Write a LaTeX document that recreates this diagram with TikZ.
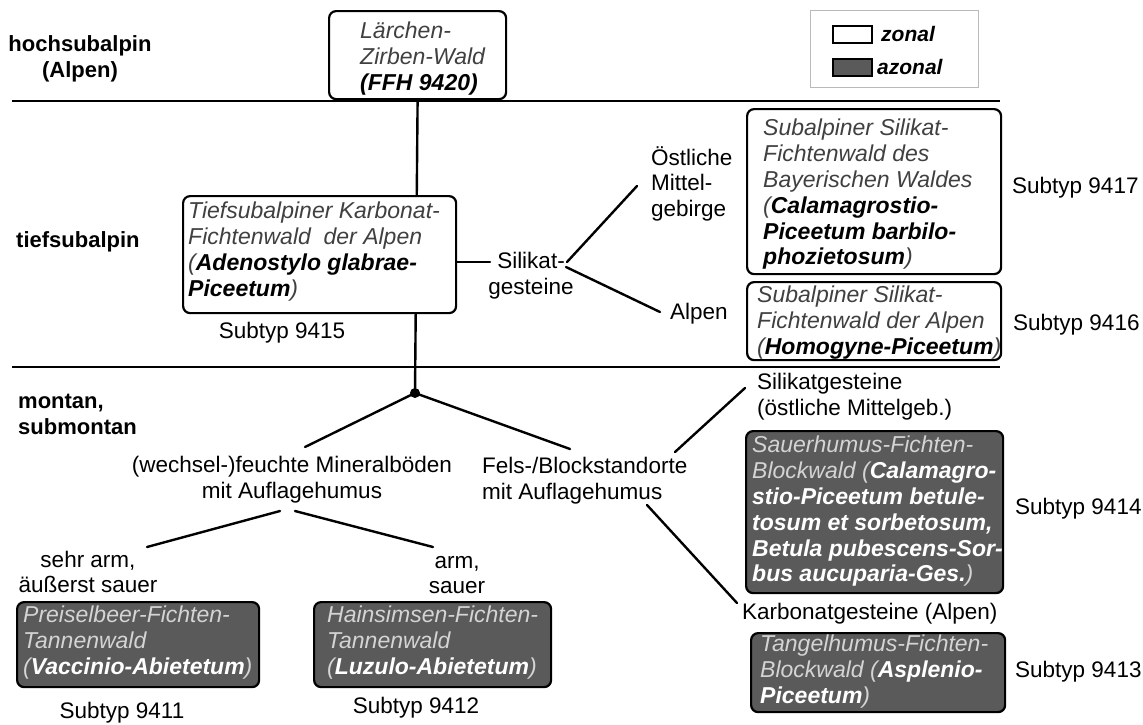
\documentclass[tikz,border=0pt]{standalone}
\usepackage{fontspec}
\setmainfont{Liberation Sans}
\usetikzlibrary{backgrounds}
\definecolor{dk}{HTML}{5A5A5A}
\definecolor{gt}{HTML}{404040}
\definecolor{lt}{HTML}{D4D4D4}
\newcommand{\mywb}[1]{\textcolor{black}{\textbf{\textit{#1}}}}
\newcommand{\mydb}[1]{\textcolor{white}{\textbf{\textit{#1}}}}
\tikzset{
  box/.style={draw=black, line width=2.2pt, rounded corners=7pt, inner sep=0pt, anchor=north west},
  wbox/.style={box, fill=white},
  dbox/.style={box, fill=dk},
  wtxt/.style={anchor=north west, inner sep=0pt, align=left, font=\fontsize{23}{25.8}\selectfont\itshape, text=gt},
  dtxt/.style={wtxt, text=lt},
  lbl/.style={inner sep=0pt, font=\fontsize{22.5}{25.8}\selectfont},
  blbl/.style={inner sep=0pt, font=\fontsize{22}{25.8}\selectfont\bfseries},
  conn/.style={line width=2.4pt, line cap=round},
  sep/.style={line width=2.6pt},
  legbox/.style={draw=black, line width=1.6pt, minimum width=39pt, minimum height=17pt, inner sep=0pt, anchor=north west}
}
\begin{document}
\begin{tikzpicture}[x=1pt,y=-1pt]
\useasboundingbox (0,0) rectangle (1143,724);
% separator lines
\draw[sep] (12,101) -- (1000,101);
\draw[sep] (12,367) -- (1000,367);
% legend
\node[draw=gray!55, line width=0.8pt, minimum width=168pt, minimum height=77pt, inner sep=0pt, anchor=north west] (legend) at (810,10) {};
\node[legbox, fill=white] (lz) at (832,25) {};
\node[legbox, fill=dk] (la) at (832,58) {};
\node[lbl, anchor=west, font=\fontsize{21}{24}\selectfont\bfseries\itshape] (lzt) at (881,34) {zonal};
\node[lbl, anchor=west, font=\fontsize{21}{24}\selectfont\bfseries\itshape] (lat) at (877,67) {azonal};
% level labels
\node[blbl, align=center] (hoch) at (80,59) {hochsubalpin\\(Alpen)};
\node[blbl, anchor=west] (tief) at (16,242) {tiefsubalpin};
\node[blbl, align=left, anchor=north west] (mont) at (18,394) {montan,\\submontan};
% boxes
\node[wbox, minimum width=177pt, minimum height=88pt] (b9420) at (328,10) {};
\node[wtxt] (t9420) at (360,22) {Lärchen-\\Zirben-Wald\\\mywb{(FFH 9420)}};
\node[wbox, minimum width=273pt, minimum height=117pt] (b9415) at (182,195) {};
\node[wtxt] (t9415) at (188,202) {Tiefsubalpiner Karbonat-\\Fichtenwald\ \ der Alpen\\(\mywb{Adenostylo glabrae-}\\\mywb{Piceetum})};
\node[wbox, minimum width=254pt, minimum height=165pt] (b9417) at (746,108) {};
\node[wtxt] (t9417) at (763,119) {Subalpiner Silikat-\\Fichtenwald des\\Bayerischen Waldes\\(\mywb{Calamagrostio-}\\\mywb{Piceetum barbilo-}\\\mywb{phozietosum})};
\node[wbox, minimum width=254pt, minimum height=78pt] (b9416) at (746,281) {};
\node[wtxt] (t9416) at (757,286) {Subalpiner Silikat-\\Fichtenwald der Alpen\\(\mywb{Homogyne-Piceetum})};
\node[dbox, minimum width=257pt, minimum height=162pt] (b9414) at (745,430) {};
\node[dtxt] (t9414) at (752,436) {Sauerhumus-Fichten-\\Blockwald (\mydb{Calamagro-}\\\mydb{stio-Piceetum betule-}\\\mydb{tosum et sorbetosum,}\\\mydb{Betula pubescens-Sor-}\\\mydb{bus aucuparia-Ges.})};
\node[dbox, minimum width=254pt, minimum height=79pt] (b9413) at (750,632) {};
\node[dtxt] (t9413) at (760,635) {Tangelhumus-Fichten-\\Blockwald (\mydb{Asplenio-}\\\mydb{Piceetum})};
\node[dbox, minimum width=242pt, minimum height=85pt] (b9411) at (16,601) {};
\node[dtxt] (t9411) at (23,606) {Preiselbeer-Fichten-\\Tannenwald\\(\mydb{Vaccinio-Abietetum})};
\node[dbox, minimum width=237pt, minimum height=85pt] (b9412) at (313,601) {};
\node[dtxt] (t9412) at (327,606) {Hainsimsen-Fichten-\\Tannenwald\\(\mydb{Luzulo-Abietetum})};
% subtype labels
\node[lbl] (s9415) at (282,333) {Subtyp 9415};
\node[lbl, anchor=west] (s9417) at (1012,188) {Subtyp 9417};
\node[lbl, anchor=west] (s9416) at (1013,325) {Subtyp 9416};
\node[lbl, anchor=west] (s9414) at (1015,509) {Subtyp 9414};
\node[lbl, anchor=west] (s9413) at (1015,672) {Subtyp 9413};
\node[lbl] (s9411) at (122,713) {Subtyp 9411};
\node[lbl] (s9412) at (416,708) {Subtyp 9412};
% branch labels
\node[lbl, align=center] (silikat) at (531,276) {Silikat-\\gesteine};
\node[lbl, align=left, anchor=north west] (oest) at (651,146) {Östliche\\Mittel-\\gebirge};
\node[lbl, anchor=west] (alpen) at (670,314) {Alpen};
\node[lbl, align=center] (feucht) at (292,480) {(wechsel-)feuchte Mineralböden\\mit Auflagehumus};
\node[lbl, align=left, anchor=north west] (fels) at (482,457) {Fels-/Blockstandorte\\mit Auflagehumus};
\node[lbl, align=left, anchor=north west] (silg) at (757,373) {Silikatgesteine\\(östliche Mittelgeb.)};
\node[lbl, anchor=west] (karb) at (742,614) {Karbonatgesteine (Alpen)};
\node[lbl, align=center] (sehrarm) at (88,572) {sehr arm,\\äußerst sauer};
\node[lbl, align=center] (arm) at (457,575) {arm,\\sauer};
% junction
\node[circle, fill=black, minimum size=10pt, inner sep=0pt] (dot) at (415,393) {};
% connector end points
\coordinate (c15a) at (455,262);
\coordinate (c15b) at (490,262);
\coordinate (cs1) at (567,262);
\coordinate (co) at (637,186);
\coordinate (cs2) at (566,267);
\coordinate (ca) at (660,312);
\coordinate (cfl) at (305,447);
\coordinate (cfr) at (570,449);
\coordinate (cfa) at (675,452);
\coordinate (csg) at (745,388);
\coordinate (cfb) at (647,505);
\coordinate (ck) at (737,603);
\coordinate (cwa) at (280,511);
\coordinate (cwl) at (147,547);
\coordinate (cwb) at (295,511);
\coordinate (cwr) at (433,547);
% connectors (behind the boxes)
\begin{pgfonlayer}{background}
\draw[conn] (b9420.south) -- (dot.center);
\draw[conn] (c15a) -- (c15b);
\draw[conn] (cs1) -- (co);
\draw[conn] (cs2) -- (ca);
\draw[conn] (dot.center) -- (cfl);
\draw[conn] (dot.center) -- (cfr);
\draw[conn] (cfa) -- (csg);
\draw[conn] (cfb) -- (ck);
\draw[conn] (cwa) -- (cwl);
\draw[conn] (cwb) -- (cwr);
\end{pgfonlayer}
\end{tikzpicture}
\end{document}
